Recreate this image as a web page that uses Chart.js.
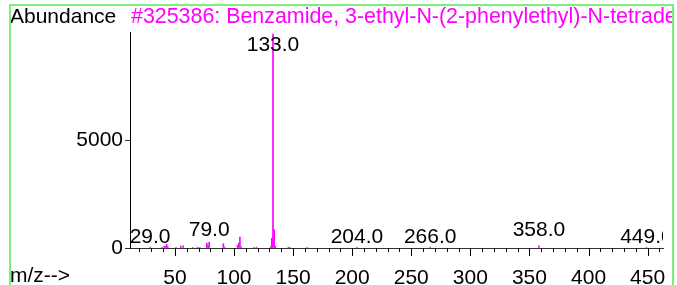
<!DOCTYPE html>
<html>
<head>
<meta charset="utf-8">
<script src="https://cdn.jsdelivr.net/npm/chart.js@4/dist/chart.umd.min.js"></script>
<style>
  html, body { margin: 0; padding: 0; background: #fff; }
  canvas { display: block; }
</style>
</head>
<body>
<canvas id="spec" width="677" height="285"></canvas>
<script>
// ── Mass spectrum: library hit #325386 ─────────────────────────────
const TITLE = '#325386: Benzamide, 3-ethyl-N-(2-phenylethyl)-N-tetradecyl-';
const Y_TITLE = 'Abundance';
const X_TITLE = 'm/z-->';

// peaks (m/z) and their abundances
const mzValues = [29, 39, 41, 42, 43, 44, 51, 55, 57, 65, 69, 71, 77, 78, 79, 91, 92,
  103, 104, 105, 106, 117, 119, 131, 132, 133, 134, 135, 146, 147, 162, 204, 266, 358, 449];
const abundance = [40, 30, 90, 60, 170, 60, 30, 90, 100, 30, 40, 30, 230, 110, 270, 200, 40,
  120, 220, 500, 60, 30, 40, 60, 450, 9900, 850, 80, 30, 40, 30, 20, 40, 100, 20];

// annotated peaks and the abundance level their label sits on
const labelMz = [29, 79, 133, 204, 266, 358, 449];
const labelLevel = [230, 560, 9120, 230, 230, 560, 230];

// axis ticks
const xMajorTicks = [50, 100, 150, 200, 250, 300, 350, 400, 450];
const xMinorStep = 10;
const yTicks = [0, 5000];

const FONT = "'Liberation Sans', Arial, sans-serif";
const MAGENTA = '#ff00ff';

const xTicks = [];
for (let v = 20; v <= 460; v += xMinorStep) xTicks.push(v);

const specDecor = {
  id: 'specDecor',
  afterDraw(chart) {
    const c = chart.ctx;
    const area = chart.chartArea;
    const xs = chart.scales.x, ys = chart.scales.y;
    c.save();

    // x tick marks: short minor, longer major
    c.fillStyle = '#000';
    for (const v of xTicks) {
      const px = Math.round(xs.getPixelForValue(v));
      c.fillRect(px, Math.round(area.bottom), 1, xMajorTicks.includes(v) ? 8 : 4);
    }

    // peak labels, clipped at the plot's right edge
    c.save();
    c.beginPath();
    c.rect(0, 0, area.right, chart.height);
    c.clip();
    c.font = `21px ${FONT}`;
    c.fillStyle = '#000';
    c.textAlign = 'center';
    c.textBaseline = 'alphabetic';
    labelMz.forEach((m, i) => {
      c.fillText(m.toFixed(1), xs.getPixelForValue(m), ys.getPixelForValue(labelLevel[i]));
    });
    c.restore();

    // titles
    c.font = `21px ${FONT}`;
    c.textAlign = 'left';
    c.textBaseline = 'alphabetic';
    c.fillStyle = '#000';
    c.fillText(Y_TITLE, 10, 23);
    c.fillText(X_TITLE, 10, 282);
    c.save();
    c.beginPath();
    c.rect(0, 0, 672, chart.height);
    c.clip();
    c.fillStyle = MAGENTA;
    c.font = `21.4px ${FONT}`;
    c.fillText(TITLE, 131, 23);
    c.restore();

    // green frame
    c.strokeStyle = '#7cee7c';
    c.lineWidth = 2;
    c.beginPath();
    c.moveTo(10, 300);
    c.lineTo(10, 5);
    c.lineTo(673, 5);
    c.lineTo(673, 300);
    c.stroke();
    c.restore();
  }
};

new Chart(document.getElementById('spec'), {
  type: 'bar',
  data: {
    datasets: [{
      data: mzValues.map((m, i) => ({ x: m, y: abundance[i] })),
      backgroundColor: MAGENTA,
      borderWidth: 0,
      barThickness: 1,
      grouped: false,
    }],
  },
  options: {
    responsive: false,
    animation: false,
    layout: { padding: { top: 32, right: 14, left: 0, bottom: 0 } },
    plugins: { legend: { display: false }, tooltip: { enabled: false } },
    scales: {
      x: {
        type: 'linear', min: 12, max: 463, offset: false,
        border: { display: true, color: '#333', width: 1 },
        grid: { display: false },
        ticks: {
          autoSkip: false, maxRotation: 0, padding: 10, color: '#000',
          font: { family: FONT, size: 21 },
          callback: v => (xMajorTicks.includes(v) ? String(v) : ''),
        },
        afterBuildTicks: s => { s.ticks = xTicks.map(v => ({ value: v })); },
        afterFit: s => { s.height = 37; },
      },
      y: {
        min: 0, max: 10000,
        border: { display: true, color: '#000', width: 1 },
        grid: { drawOnChartArea: false, drawTicks: true, tickLength: 5, tickColor: '#333' },
        ticks: { padding: 2, color: '#000', font: { family: FONT, size: 21 }, callback: v => String(v) },
        afterBuildTicks: s => { s.ticks = yTicks.map(v => ({ value: v })); },
        afterFit: s => { s.width = 130; },
      },
    },
  },
  plugins: [specDecor],
});
</script>
</body>
</html>
